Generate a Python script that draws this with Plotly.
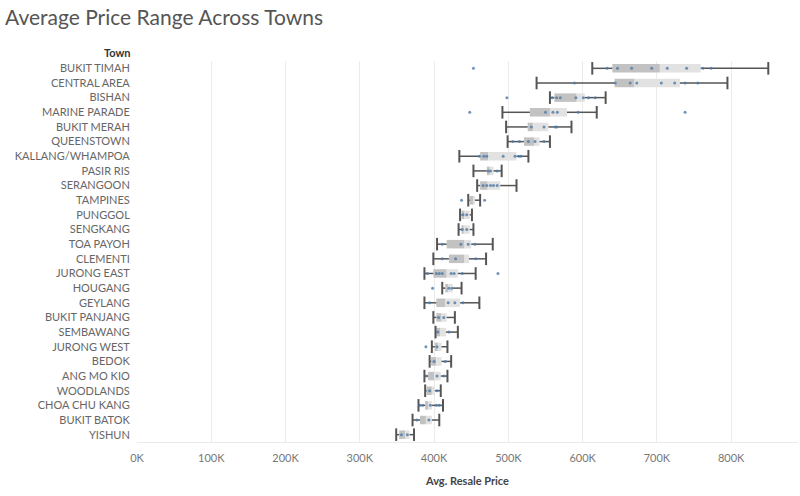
import plotly.graph_objs as go

# towns, top to bottom, prices in thousands
towns = [
    "BUKIT TIMAH", "CENTRAL AREA", "BISHAN", "MARINE PARADE", "BUKIT MERAH",
    "QUEENSTOWN", "KALLANG/WHAMPOA", "PASIR RIS", "SERANGOON", "TAMPINES",
    "PUNGGOL", "SENGKANG", "TOA PAYOH", "CLEMENTI", "JURONG EAST", "HOUGANG",
    "GEYLANG", "BUKIT PANJANG", "SEMBAWANG", "JURONG WEST", "BEDOK",
    "ANG MO KIO", "WOODLANDS", "CHOA CHU KANG", "BUKIT BATOK", "YISHUN",
]
low = [613, 538, 556, 492, 497, 499, 434, 453, 458, 446, 435, 433, 404,
       399, 387, 411, 387, 399, 402, 397, 394, 387, 388, 379, 371, 349]
q1 = [640, 643, 562, 529, 526, 521, 462, 471, 462, 448, 437, 437, 417,
      420, 399, 415, 403, 403, 403, 401, 396, 392, 390, 388, 381, 353]
median = [704, 670, 592, 556, 533, 535, 473, 475, 472, 453, 441, 440, 441,
          441, 417, 419, 415, 410, 408, 405, 403, 400, 397, 392, 389, 361]
q3 = [759, 731, 603, 579, 554, 542, 511, 480, 489, 455, 448, 448, 450,
      447, 432, 425, 435, 417, 416, 410, 410, 409, 401, 397, 397, 367]
high = [850, 795, 631, 619, 585, 556, 527, 491, 511, 462, 451, 453, 479,
        470, 456, 437, 461, 428, 432, 418, 423, 418, 409, 412, 407, 373]
dots = [
    [453, 633, 647, 666, 693, 714, 740, 762, 773],
    [589, 644, 664, 673, 706, 724, 738, 755],
    [498, 559, 565, 570, 591, 601, 608, 617],
    [448, 550, 560, 566, 594, 738],
    [531, 548, 563, 565],
    [506, 515, 527, 536, 548],
    [461, 467, 471, 493, 509, 514, 517],
    [473, 476, 485],
    [466, 471, 476, 480, 485],
    [437, 468],
    [439, 444],
    [438, 444],
    [411, 436, 446, 455],
    [411, 429, 456],
    [391, 403, 407, 411, 423, 427, 438, 486],
    [398, 420, 424],
    [394, 419, 428, 439],
    [406, 413],
    [405, 420],
    [389, 404],
    [400, 415],
    [390, 404, 413],
    [394, 404],
    [381, 385, 395, 403, 407],
    [377, 393],
    [356, 364],
]
tick_values = [0, 100, 200, 300, 400, 500, 600, 700, 800]
tick_labels = ["0K", "100K", "200K", "300K", "400K", "500K", "600K", "700K", "800K"]

box_dark = "#c2c2c2"
box_light = "#e2e2e2"
whisker = "#555555"
font = "Lato"

fig = go.Figure()

fig.add_trace(go.Bar(
    y=towns, x=[m - a for a, m in zip(q1, median)], base=q1,
    orientation="h", width=0.58, marker=dict(color=box_dark, line_width=0),
    showlegend=False,
))
fig.add_trace(go.Bar(
    y=towns, x=[b - m for m, b in zip(median, q3)], base=median,
    orientation="h", width=0.58, marker=dict(color=box_light, line_width=0),
    showlegend=False,
))

# whiskers drawn in two pieces so they do not cross the box
wx, wy = [], []
for t, lo, a, b, hi in zip(towns, low, q1, q3, high):
    wx += [lo, a, None, b, hi, None]
    wy += [t, t, None, t, t, None]
fig.add_trace(go.Scatter(
    x=wx, y=wy, mode="lines", line=dict(color=whisker, width=1.5),
    showlegend=False, hoverinfo="skip",
))
fig.add_trace(go.Scatter(
    x=low + high, y=towns + towns, mode="markers",
    marker=dict(symbol="line-ns-open", size=9, color=whisker,
                line=dict(color=whisker, width=2)),
    showlegend=False, hoverinfo="skip",
))

dx, dy = [], []
for t, vals in zip(towns, dots):
    dx += vals
    dy += [t] * len(vals)
fig.add_trace(go.Scatter(
    x=dx, y=dy, mode="markers",
    marker=dict(color="#4e79a7", size=3, opacity=0.8),
    showlegend=False,
))

fig.update_layout(
    width=800, height=496,
    margin=dict(l=137, r=2, t=61, b=54),
    plot_bgcolor="white", paper_bgcolor="white",
    barmode="overlay",
    font=dict(family=font, size=11, color="#666666"),
    title=dict(
        text="Average Price Range Across Towns",
        x=0.00625, xanchor="left", y=0.964, yanchor="middle",
        font=dict(family=font, size=21, color="#555555"),
    ),
    xaxis=dict(
        range=[0, 890], tickvals=tick_values, ticktext=tick_labels,
        showgrid=True, gridcolor="#ebebeb", gridwidth=1,
        zeroline=False, showline=True, linecolor="#ebebeb",
        ticks="outside", ticklen=6, tickcolor="rgba(0,0,0,0)",
        tickfont=dict(size=11, color="#777777"),
        title=dict(text="<b>Avg. Resale Price</b>", standoff=14,
                   font=dict(size=11, color="#444444")),
    ),
    yaxis=dict(
        categoryorder="array", categoryarray=towns,
        range=[len(towns) - 0.5, -0.5], showgrid=False, zeroline=False,
        ticks="outside", ticklen=4, tickcolor="rgba(0,0,0,0)",
        tickfont=dict(size=11, color="#666666"),
    ),
)

fig.add_annotation(
    text="<b>Town</b>", xref="paper", yref="paper", x=0, y=1,
    xanchor="right", yanchor="bottom", xshift=-4, yshift=0, showarrow=False,
    font=dict(family=font, size=11, color="#333333"),
)

# the page's default body margin would push the 800x496 figure off the window
fig.write_html(
    "out.html",
    config={"displayModeBar": False},
    post_script="document.body.style.margin = '0';",
)
